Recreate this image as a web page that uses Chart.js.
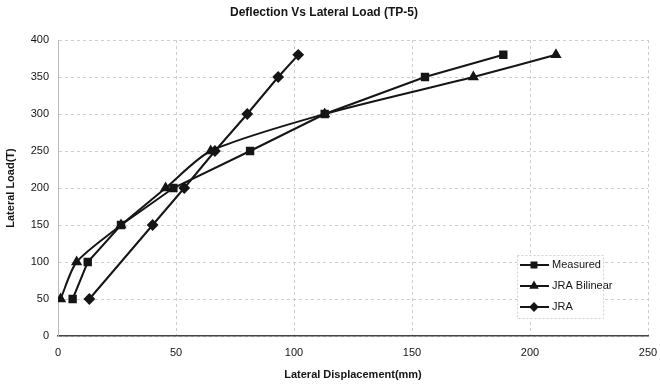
<!DOCTYPE html>
<html>
<head>
<meta charset="utf-8">
<script src="https://cdn.jsdelivr.net/npm/chart.js@4/dist/chart.umd.min.js"></script>
<style>
  html,body{margin:0;padding:0;background:#fff;}
  #wrap{width:660px;height:386px;position:relative;}
</style>
</head>
<body>
<div id="wrap"><canvas id="c"></canvas></div>
<script>
// datos (desplazamiento mm, carga T)
const measuredX=[6.2,12.6,26.7,48.9,81.4,113,155.5,188.7];
const measuredY=[50,100,150,200,250,300,350,380];
const bilinX=[1.1,7.9,26.7,45.6,64.7,113,176,211];
const bilinY=[50,100,150,200,250,300,350,380];
const jraX=[13.3,40.1,53.5,66.5,80.2,93.3,101.8];
const jraY=[50,150,200,250,300,350,380];
const xTicks=[0,50,100,150,200,250];
const yTicks=[0,50,100,150,200,250,300,350,400];

const ink='#151515', gc='#cdcdcd';
const fam='"Liberation Sans", Arial, sans-serif';
const pts=(xs,ys)=>xs.map((x,i)=>({x:x,y:ys[i]}));

// leyenda dentro del área de trazado (abajo a la derecha)
const boxLegend={
  id:'boxLegend',
  afterDraw(chart){
    const ctx=chart.ctx, ds=chart.data.datasets;
    const x0=517, y0=255, w=86, h=63;
    ctx.save();
    ctx.fillStyle='#fff';ctx.fillRect(x0,y0,w,h);
    ctx.strokeStyle='#d0d0d0';ctx.setLineDash([2,2]);ctx.lineWidth=1;
    ctx.strokeRect(x0+.5,y0+.5,w,h);ctx.setLineDash([]);
    ds.forEach((d,i)=>{
      const y=y0+10+i*21;
      ctx.strokeStyle=ink;ctx.fillStyle=ink;ctx.lineWidth=2;
      ctx.beginPath();ctx.moveTo(x0+3,y);ctx.lineTo(x0+32,y);ctx.stroke();
      Chart.helpers.drawPoint(ctx,{pointStyle:d.pointStyle,radius:3.5,borderWidth:1},x0+17,y);
      ctx.fillStyle=ink;ctx.font='11px '+fam;
      ctx.textBaseline='middle';ctx.textAlign='left';
      ctx.fillText(d.label,x0+35,y);
    });
    ctx.restore();
  }
};

const mk=(label,data,style,r,tension)=>({label:label,data:data,borderColor:ink,backgroundColor:ink,
  borderWidth:2,pointStyle:style,pointRadius:r,pointHoverRadius:r,pointBackgroundColor:ink,
  pointBorderColor:ink,tension:tension,fill:false,showLine:true});

new Chart(document.getElementById('c').getContext('2d'),{
  type:'scatter',
  data:{datasets:[
    mk('Measured',pts(measuredX,measuredY),'rect',4.5,0),
    mk('JRA Bilinear',pts(bilinX,bilinY),'triangle',4.5,0.25),
    mk('JRA',pts(jraX,jraY),'rectRot',4.5,0)
  ]},
  options:{responsive:true,maintainAspectRatio:false,animation:false,
    layout:{padding:{left:0,right:12,top:0,bottom:0}},
    plugins:{legend:{display:false},tooltip:{enabled:false},
      title:{display:true,text:'Deflection Vs Lateral Load (TP-5)',color:ink,
        font:{family:fam,size:12,weight:'bold'},padding:{top:5,bottom:20.6}}},
    scales:{
      x:{type:'linear',min:0,max:250,
        afterBuildTicks:s=>{s.ticks=xTicks.map(v=>({value:v}));},
        afterFit:s=>{s.height=50;s.paddingLeft=0;s.paddingRight=0;},
        title:{display:true,text:'Lateral Displacement(mm)',color:ink,padding:{top:7},
          font:{family:fam,size:11,weight:'bold'}},
        border:{color:'#444',width:1.5,dash:[3,3]},
        grid:{color:gc,drawTicks:false},
        ticks:{color:ink,padding:10,maxRotation:0,font:{family:fam,size:11}}},
      y:{min:0,max:400,
        afterBuildTicks:s=>{s.ticks=yTicks.map(v=>({value:v}));},
        afterFit:s=>{s.width=58;s.paddingTop=0;s.paddingBottom=0;},
        title:{display:true,text:'Lateral Load(T)',color:ink,
          font:{family:fam,size:11,weight:'bold'}},
        border:{color:'#bbb',width:1,dash:[3,3]},
        grid:{color:gc,drawTicks:false},
        ticks:{color:ink,padding:9,font:{family:fam,size:11}}}
    }},
  plugins:[boxLegend]
});
</script>
</body>
</html>
